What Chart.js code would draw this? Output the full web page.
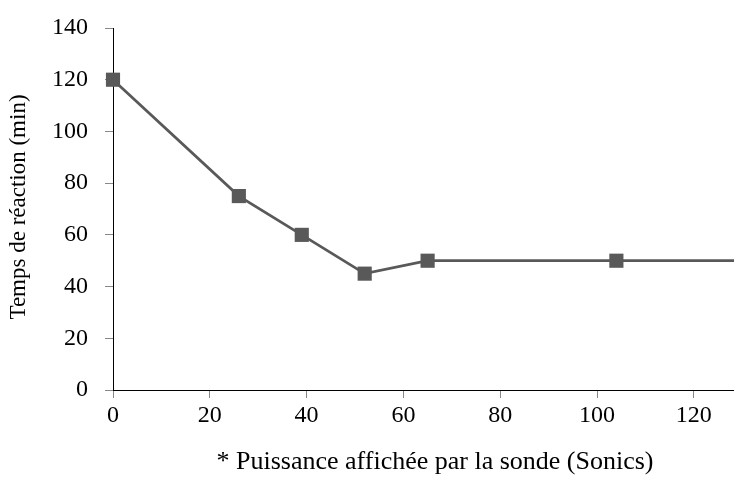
<!DOCTYPE html>
<html>
<head>
<meta charset="utf-8">
<script src="https://cdn.jsdelivr.net/npm/chart.js@4/dist/chart.umd.min.js"></script>
<style>
  html, body { margin: 0; padding: 0; background: #fff; }
  #wrap { width: 734px; height: 481px; position: relative; }
</style>
</head>
<body>
<div id="wrap"><canvas id="chart"></canvas></div>
<script>
// Data
const puissance = [0, 26, 39, 52, 65, 104, 130];
const tempsReaction = [120, 75, 60, 45, 50, 50, 50];
const yTicks = [0, 20, 40, 60, 80, 100, 120, 140];
const xTicks = [0, 20, 40, 60, 80, 100, 120];
const xTitle = '* Puissance affichée par la sonde (Sonics)';
const yTitle = 'Temps de réaction (min)';

const serif = "'Liberation Serif', 'Times New Roman', serif";
const grey = '#595959';

// axis titles drawn by hand so they sit where the (cropped) original put them
const axisTitles = {
    id: 'axisTitles',
    afterDraw(chart) {
        const c = chart.ctx;
        c.save();
        c.fillStyle = '#000';
        c.textAlign = 'center';
        c.textBaseline = 'middle';
        c.font = '26px ' + serif;
        c.fillText(xTitle, 435, 462);
        c.translate(19, 207);
        c.rotate(-Math.PI / 2);
        c.font = '23px ' + serif;
        c.fillText(yTitle, 0, 0);
        c.restore();
    }
};

document.addEventListener('DOMContentLoaded', () => {
    const ctx = document.getElementById('chart');
    new Chart(ctx, {
        type: 'line',
        data: {
            datasets: [{
                label: 'Temps de réaction',
                data: puissance.map((x, i) => ({ x: x, y: tempsReaction[i] })),
                borderColor: grey,
                borderWidth: 2.75,
                pointStyle: 'rect',
                pointRadius: 10,
                pointHoverRadius: 10,
                pointBackgroundColor: grey,
                pointBorderColor: grey,
                pointBorderWidth: 0,
                tension: 0,
                clip: { left: 20, top: 20, right: 0, bottom: 20 }
            }]
        },
        plugins: [axisTitles],
        options: {
            responsive: true,
            maintainAspectRatio: false,
            animation: false,
            layout: { autoPadding: false, padding: { top: 28, right: 0, left: 0, bottom: 0 } },
            plugins: { legend: { display: false }, tooltip: { enabled: false } },
            scales: {
                x: {
                    type: 'linear',
                    min: 0,
                    max: 128.3,
                    afterFit: s => { s.height = 91; s.paddingRight = 0; s.paddingLeft = 0; },
                    afterBuildTicks: s => { s.ticks = xTicks.map(v => ({ value: v })); },
                    border: { color: '#000', width: 1 },
                    grid: { drawOnChartArea: false, tickLength: 8, color: '#888' },
                    ticks: {
                        includeBounds: false,
                        color: '#000',
                        padding: 3,
                        font: { family: serif, size: 24 }
                    }
                },
                y: {
                    min: 0,
                    max: 140,
                    afterFit: s => { s.width = 113; s.paddingTop = 0; s.paddingBottom = 0; },
                    afterBuildTicks: s => { s.ticks = yTicks.map(v => ({ value: v })); },
                    border: { color: '#000', width: 1 },
                    grid: { drawOnChartArea: false, tickLength: 8, color: '#888' },
                    ticks: {
                        color: '#000',
                        padding: 17,
                        font: { family: serif, size: 24 }
                    }
                }
            }
        }
    });
});
</script>
</body>
</html>
